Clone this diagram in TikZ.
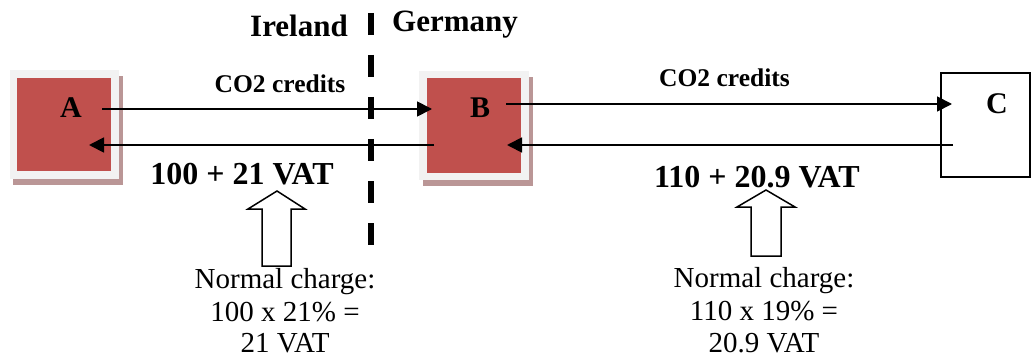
\documentclass[tikz,border=0pt]{standalone}
\usepackage{fontspec}
\setmainfont{Liberation Serif}
\usetikzlibrary{arrows.meta,calc}
\definecolor{boxred}{RGB}{192,80,77}
\definecolor{framegray}{RGB}{242,242,242}
\definecolor{shadowc}{RGB}{186,150,150}
\tikzset{
  redbox/.style={rectangle,fill=boxred,inner sep=0pt,outer sep=0pt,draw=framegray,line width=7.5pt},
  shadowbox/.style={rectangle,fill=shadowc,inner sep=0pt,outer sep=0pt},
  arr/.style={line width=1.8pt,-{Triangle[length=15pt,width=15pt]}},
  hollow/.style={draw=black,line width=1.5pt,fill=white,line join=miter},
  border/.style={line width=6pt,dash pattern=on 22pt off 20pt},
  hd/.style={font=\fontsize{31}{36}\selectfont\bfseries,anchor=base,inner sep=0pt},
  co/.style={font=\fontsize{25.5}{30}\selectfont\bfseries,anchor=base,inner sep=0pt},
  vat/.style={font=\fontsize{32}{36}\selectfont\bfseries,anchor=base,inner sep=0pt},
  letter/.style={font=\fontsize{30}{34}\selectfont\bfseries,inner sep=0pt},
  note/.style={font=\fontsize{29}{32}\selectfont,anchor=base,inner sep=0pt},
}
\begin{document}
\begin{tikzpicture}[x=1pt,y=-1pt]
\useasboundingbox (0,0) rectangle (1032,358);
% shadows
\node[shadowbox,minimum width=110pt,minimum height=108pt] (Ash) at (67.5,130.5) {};
\node[shadowbox,minimum width=110pt,minimum height=109pt] (Bsh) at (477.5,131.5) {};
% boxes
\node[redbox,minimum width=101.5pt,minimum height=100.5pt] (A) at (64,124.5) {};
\node[redbox,minimum width=102pt,minimum height=102pt] (B) at (474,125.5) {};
\node[rectangle,draw=black,line width=1.8pt,fill=white,minimum width=89pt,minimum height=104pt,inner sep=0pt,outer sep=0pt] (C) at (985.5,125) {};
% letters
\node[letter] (Al) at (71,108) {A};
\node[letter] (Bl) at (480,108) {B};
\node[letter] (Cl) at (997,104) {C};
% arrows
\draw[arr] ([xshift=-12.75pt,yshift=15.5pt]A.east) -- ([xshift=9pt,yshift=16.5pt]B.west);
\draw[arr] ([xshift=11pt,yshift=-19.5pt]B.west) -- ([xshift=-25.75pt,yshift=-20.5pt]A.east);
\draw[arr] ([xshift=-19pt,yshift=21.5pt]B.east) -- ([xshift=11pt,yshift=21pt]C.west);
\draw[arr] ([xshift=12pt,yshift=-20pt]C.west) -- ([xshift=-18pt,yshift=-19.5pt]B.east);
% border
\coordinate (dtop) at (371,13);
\coordinate (dbot) at (371,246);
\draw[border] (dtop) -- (dbot);
% headings
\node[hd] (ire) at (299,37) {Ireland};
\node[hd] (ger) at (455,32) {Germany};
\node[co] (co1) at (280,93) {CO2 credits};
\node[co] (co2) at (724.5,87) {CO2 credits};
% hollow arrows
\draw[hollow] (277,191) -- (305,209) -- (291,209) -- (291,266) -- (262,266) -- (262,209) -- (248,209) -- cycle;
\draw[hollow] (766,190) -- (795,207) -- (781,207) -- (781,256) -- (751,256) -- (751,207) -- (737,207) -- cycle;
% VAT labels
\node[vat] (v1) at (242,185) {100 + 21 VAT};
\node[vat] (v2) at (757,187) {110 + 20.9 VAT};
% notes
\node[note] (n1a) at (285,288) {Normal charge:};
\node[note] (n1b) at (285,321) {100 x 21\% =};
\node[note] (n1c) at (285,352) {21 VAT};
\node[note] (n2a) at (764,287) {Normal charge:};
\node[note] (n2b) at (764,320) {110 x 19\% =};
\node[note] (n2c) at (764,352) {20.9 VAT};
\end{tikzpicture}
\end{document}
